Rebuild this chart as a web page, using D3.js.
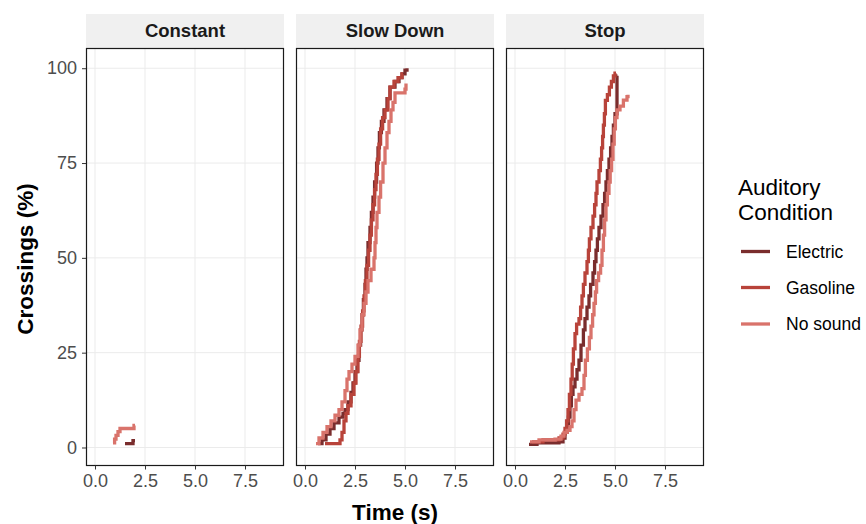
<!DOCTYPE html>
<html>
<head>
<meta charset="utf-8">
<script src="https://cdn.jsdelivr.net/npm/d3@7"></script>
<style>
  html, body { margin: 0; padding: 0; background: #ffffff; }
  svg { display: block; font-family: "Liberation Sans", Arial, sans-serif; }
</style>
</head>
<body>
<svg id="chart" width="866" height="524"></svg>
<script>
// ---------------- DATA ----------------
const facets = ["Constant", "Slow Down", "Stop"];
const conditions = ["Electric", "Gasoline", "No sound"];
const conditionColors = ["#7a2d2d", "#b8433a", "#d9736b"];
const xTicks = [0, 2.5, 5, 7.5];
const yTicks = [0, 25, 50, 75, 100];

// cumulative crossings (%) as [time (s), percent] step points
const constantElectric = [[1.5, 1.0], [1.9, 1.8], [2.0, 1.8]];
const constantNoSound = [[0.9, 1.2], [0.98, 2.2], [1.05, 3.2], [1.15, 4.2], [1.25, 5.0], [1.95, 5.8], [2.0, 5.8]];

const slowElectric = [[0.65, 1], [0.85, 2], [1.05, 3.5], [1.25, 5], [1.45, 6.5], [1.7, 8], [1.9, 9], [2.0, 10],
  [2.15, 12], [2.3, 14.5], [2.4, 17], [2.5, 20], [2.6, 23], [2.7, 27], [2.78, 31], [2.85, 35], [2.92, 39],
  [3.0, 43], [3.05, 47], [3.1, 50], [3.15, 54], [3.25, 58], [3.32, 62], [3.4, 66], [3.48, 70], [3.58, 75],
  [3.65, 79], [3.72, 83], [3.82, 86], [3.95, 89], [4.1, 92], [4.25, 95], [4.5, 96.5], [4.7, 97.5],
  [4.85, 98.5], [5.0, 99.5], [5.1, 100]];
const slowGasoline = [[1.0, 1], [1.75, 2], [1.85, 4], [1.95, 7], [2.05, 9], [2.15, 11], [2.3, 14], [2.45, 17],
  [2.55, 20], [2.65, 24], [2.72, 28], [2.8, 32], [2.88, 36], [2.95, 40], [3.02, 44], [3.1, 48], [3.18, 52],
  [3.25, 56], [3.32, 60], [3.4, 64], [3.48, 68], [3.55, 72], [3.62, 76], [3.7, 80], [3.78, 84], [3.88, 87],
  [4.0, 89], [4.15, 92], [4.25, 95], [4.45, 96.5], [4.65, 97.5], [4.85, 98.5], [4.9, 98.5]];
const slowNoSound = [[0.55, 1], [0.7, 2.5], [0.9, 4], [1.1, 5.5], [1.3, 7], [1.5, 8.5], [1.7, 10], [1.85, 12],
  [2.0, 15], [2.1, 18], [2.2, 20], [2.35, 22], [2.5, 24], [2.65, 27], [2.75, 31], [2.85, 35], [2.95, 38],
  [3.05, 41], [3.15, 44], [3.3, 47], [3.45, 50], [3.5, 54], [3.55, 58], [3.6, 62], [3.7, 66], [3.78, 70],
  [3.9, 75], [4.0, 79], [4.1, 83], [4.2, 86], [4.3, 89], [4.4, 91], [4.5, 93.5], [5.0, 94.5], [5.05, 96]];

const stopElectric = [[0.7, 0.8], [1.1, 1.2], [2.2, 1.5], [2.4, 2.5], [2.5, 4], [2.6, 6], [2.67, 8], [2.75, 11],
  [2.82, 14], [2.9, 16], [3.0, 18], [3.1, 20.5], [3.2, 23], [3.3, 27], [3.42, 31], [3.5, 34], [3.6, 37],
  [3.7, 40], [3.78, 43], [3.9, 46], [3.98, 49], [4.05, 52], [4.12, 55], [4.2, 58], [4.3, 61], [4.4, 64],
  [4.48, 67], [4.55, 70], [4.62, 73], [4.7, 76], [4.78, 79], [4.85, 82], [4.92, 85], [5.0, 88], [5.1, 98], [5.12, 98]];
const stopGasoline = [[0.85, 1.5], [1.4, 2], [2.2, 2.5], [2.4, 3.5], [2.5, 5], [2.58, 7], [2.65, 10], [2.72, 14],
  [2.8, 18], [2.86, 22], [2.92, 26], [3.0, 30], [3.08, 32.5], [3.2, 34], [3.28, 37], [3.35, 40], [3.42, 43],
  [3.5, 46], [3.6, 49], [3.67, 52], [3.72, 55], [3.8, 58], [3.9, 61], [3.98, 64], [4.05, 67], [4.1, 70],
  [4.2, 73], [4.27, 76], [4.33, 79], [4.38, 82], [4.42, 85], [4.47, 88], [4.52, 91.5], [4.62, 93], [4.72, 95],
  [4.82, 96.5], [4.92, 98], [5.0, 98.7], [5.05, 98.7]];
const stopNoSound = [[0.75, 1.5], [1.2, 2], [2.0, 2.2], [2.3, 3], [2.45, 4], [2.6, 4.5], [2.75, 5.5], [2.85, 7],
  [2.95, 10], [3.05, 12.5], [3.2, 14], [3.35, 15.5], [3.45, 19], [3.52, 23], [3.62, 26], [3.72, 29], [3.8, 32],
  [3.88, 35], [3.95, 38], [4.02, 41], [4.08, 44], [4.18, 46], [4.28, 48], [4.35, 52], [4.42, 56], [4.48, 60],
  [4.55, 64], [4.62, 67], [4.7, 70], [4.76, 73], [4.83, 76], [4.9, 80], [4.96, 84], [5.02, 87], [5.1, 89],
  [5.25, 90], [5.42, 91.6], [5.6, 92.5], [5.65, 93]];

const seriesByFacet = [
  [constantElectric, null, constantNoSound],
  [slowElectric, slowGasoline, slowNoSound],
  [stopElectric, stopGasoline, stopNoSound]
];

// ---------------- LAYOUT ----------------
const svg = d3.select("#chart");
const panelLefts = [86, 296, 506];
const panelW = 198;
const stripTop = 14, panelTop = 48.5, panelBottom = 465.5;

const y = d3.scaleLinear().domain([-4.75, 105.2]).range([panelBottom, panelTop]);
const color = d3.scaleOrdinal().domain(conditions).range(conditionColors);

facets.forEach((facet, fi) => {
  const left = panelLefts[fi];
  const x = d3.scaleLinear().domain([-0.45, 9.45]).range([left, left + panelW]);
  const g = svg.append("g");

  // strip
  g.append("rect").attr("x", left).attr("y", stripTop).attr("width", panelW)
    .attr("height", panelTop - stripTop).attr("fill", "#f0f0f0");
  g.append("text").attr("x", left + panelW / 2).attr("y", (stripTop + panelTop) / 2 + 1)
    .attr("text-anchor", "middle").attr("dominant-baseline", "middle")
    .attr("font-size", 18.5).attr("font-weight", "bold").attr("fill", "#1a1a1a").text(facet);

  // grid
  g.selectAll(".gx").data(xTicks).enter().append("line")
    .attr("x1", d => x(d)).attr("x2", d => x(d)).attr("y1", panelTop).attr("y2", panelBottom)
    .attr("stroke", "#ebebeb").attr("stroke-width", 1);
  g.selectAll(".gy").data(yTicks).enter().append("line")
    .attr("x1", left).attr("x2", left + panelW).attr("y1", d => y(d)).attr("y2", d => y(d))
    .attr("stroke", "#ebebeb").attr("stroke-width", 1);

  // lines
  const line = d3.line().x(d => x(d[0])).y(d => y(d[1])).curve(d3.curveStepAfter);
  seriesByFacet[fi].forEach((s, si) => {
    if (!s) return;
    g.append("path").datum(s).attr("d", line).attr("fill", "none")
      .attr("stroke", color(conditions[si])).attr("stroke-width", 3.3)
      .attr("stroke-linejoin", "miter").attr("stroke-linecap", "butt");
  });

  // border
  g.append("rect").attr("x", left + 0.5).attr("y", panelTop).attr("width", panelW - 1)
    .attr("height", panelBottom - panelTop).attr("fill", "none").attr("stroke", "#1a1a1a").attr("stroke-width", 1.2);

  // x axis
  const xa = g.append("g").attr("transform", `translate(0,${panelBottom})`)
    .call(d3.axisBottom(x).tickValues(xTicks).tickFormat(d3.format(".1f")).tickSize(4).tickPadding(5));
  xa.select(".domain").remove();
  xa.selectAll("line").attr("stroke", "#333");
  xa.selectAll("text").attr("font-size", 18).attr("fill", "#4d4d4d")
    .attr("font-family", "Liberation Sans, Arial, sans-serif");

  if (fi === 0) {
    const ya = g.append("g").attr("transform", `translate(${left},0)`)
      .call(d3.axisLeft(y).tickValues(yTicks).tickSize(4).tickPadding(5));
    ya.select(".domain").remove();
    ya.selectAll("line").attr("stroke", "#333");
    ya.selectAll("text").attr("font-size", 18).attr("fill", "#4d4d4d")
      .attr("font-family", "Liberation Sans, Arial, sans-serif");
  }
});

// axis titles
svg.append("text").attr("x", 395).attr("y", 520).attr("text-anchor", "middle")
  .attr("font-size", 22.5).attr("font-weight", "bold").attr("fill", "#000").text("Time (s)");
svg.append("text").attr("transform", `translate(33,${(panelTop + panelBottom) / 2 + 2}) rotate(-90)`)
  .attr("text-anchor", "middle").attr("font-size", 22.5).attr("font-weight", "bold").attr("fill", "#000")
  .text("Crossings (%)");

// legend
const legend = svg.append("g");
legend.append("text").attr("x", 738).attr("y", 195).attr("font-size", 22.5).attr("fill", "#000").text("Auditory");
legend.append("text").attr("x", 738).attr("y", 220).attr("font-size", 22.5).attr("fill", "#000").text("Condition");
const legendY = [251.5, 287.5, 324];
conditions.forEach((c, i) => {
  legend.append("line").attr("x1", 741).attr("x2", 770).attr("y1", legendY[i]).attr("y2", legendY[i])
    .attr("stroke", color(c)).attr("stroke-width", 3.3);
  legend.append("text").attr("x", 786).attr("y", legendY[i]).attr("dominant-baseline", "central")
    .attr("font-size", 17.5).attr("fill", "#000").text(c);
});
</script>
</body>
</html>
